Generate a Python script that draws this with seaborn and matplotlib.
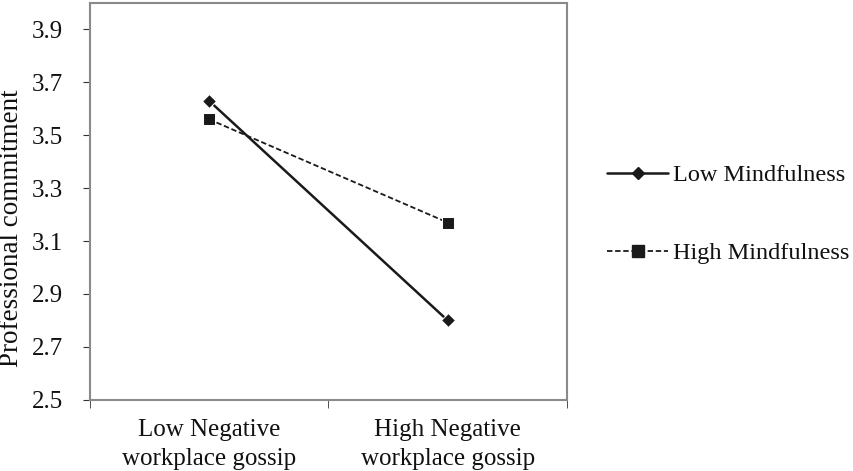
import matplotlib
matplotlib.use('Agg')
import matplotlib.pyplot as plt
import seaborn as sns
import pandas as pd

sns.set_style('white')
plt.rcParams['font.family'] = ['Liberation Serif', 'DejaVu Serif']
plt.rcParams['font.size'] = 18
plt.rcParams['text.color'] = '#111111'

# data
gossip = ['Low Negative\nworkplace gossip', 'High Negative\nworkplace gossip']
low_mind = [3.63, 2.80]
high_mind = [3.56, 3.17]
series = ['Low Mindfulness', 'High Mindfulness']

df = pd.DataFrame({
    'gossip': gossip * 2,
    'commitment': low_mind + high_mind,
    'group': [series[0]] * 2 + [series[1]] * 2,
})

fig = plt.figure(figsize=(8.54, 4.71), dpi=100)
ax = fig.add_axes([0.105, 0.151, 0.559, 0.843])

sns.lineplot(data=df, x='gossip', y='commitment', hue='group', style='group',
             palette={series[0]: '#1a1a1a', series[1]: '#1a1a1a'},
             markers={series[0]: 'D', series[1]: 's'},
             dashes={series[0]: '', series[1]: (3, 1.5)},
             ax=ax, legend=False, sort=False)
lines = ax.get_lines()
lines[0].set_linewidth(1.8)
lines[0].set_markersize(7)
lines[1].set_linewidth(1.3)
lines[1].set_markersize(9)

ax.set_xlim(-0.5, 1.5)
ax.set_ylim(2.5, 4.0)
ax.set_yticks([2.5, 2.7, 2.9, 3.1, 3.3, 3.5, 3.7, 3.9])
ax.set_yticklabels(['2.5', '2.7', '2.9', '3.1', '3.3', '3.5', '3.7', '3.9'])
ax.set_xticks([0, 1])
ax.set_xticklabels(gossip, linespacing=1.4)
ax.set_xticks([-0.5, 0.5, 1.5], minor=True)
ax.tick_params(axis='x', which='major', length=0, pad=14, labelsize=18, labelcolor='#111111')
ax.tick_params(axis='x', which='minor', length=6, direction='out', color='#333333', bottom=True)
ax.tick_params(axis='y', length=5, direction='out', color='#333333', left=True,
               labelsize=18, pad=14, labelcolor='#111111')
ax.set_xlabel('')
ax.set_ylabel('Professional commitment', fontsize=19.5, color='#111111', va='center')
ax.yaxis.set_label_coords(-0.163, 0.433)
for s in ax.spines.values():
    s.set_color('#8a8a8a')
    s.set_linewidth(1.5)

handles = [
    plt.Line2D([], [], color='#1a1a1a', lw=1.8, marker='D', markersize=6),
    plt.Line2D([], [], color='#1a1a1a', lw=1.3, ls=(0, (3, 1.5)), marker='s', markersize=8),
]
fig.legend(handles, series, loc='center left', bbox_to_anchor=(0.711, 0.545),
           frameon=False, fontsize=17.5, handlelength=2.5, handletextpad=0.2,
           labelspacing=2.3, borderpad=0, borderaxespad=0)

fig.savefig('out.png', dpi=100)
